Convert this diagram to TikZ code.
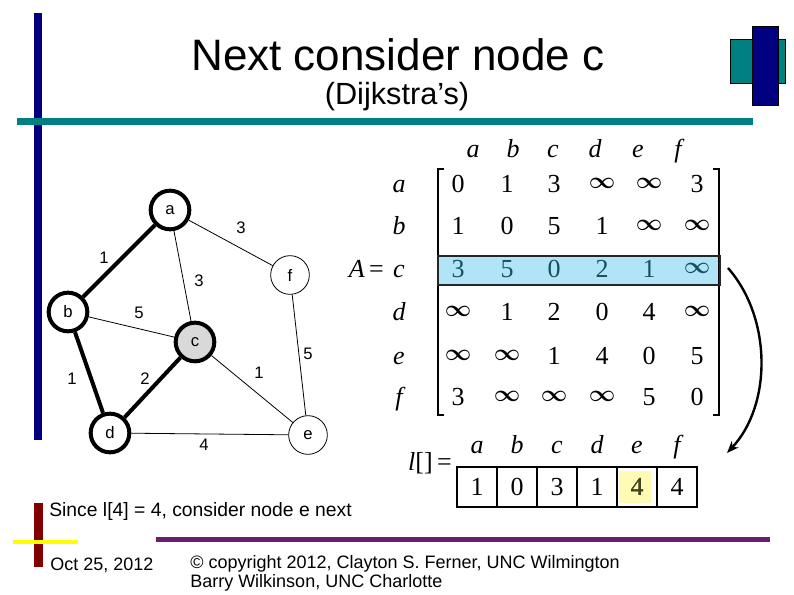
\documentclass[tikz,border=0pt]{standalone}
\usepackage{fontspec}
\setmainfont{Liberation Sans}
\newfontfamily\timesf{Liberation Serif}
\usetikzlibrary{arrows.meta}
\definecolor{navyc}{RGB}{0,0,128}
\definecolor{tealc}{RGB}{0,128,128}
\definecolor{darkred}{RGB}{128,0,0}
\definecolor{yellowc}{RGB}{255,255,0}
\definecolor{purplec}{RGB}{110,28,110}
\definecolor{grayc}{RGB}{217,217,217}
\definecolor{rowblue}{RGB}{178,228,248}
\definecolor{rowtext}{RGB}{20,80,100}
\definecolor{cellyel}{RGB}{255,250,180}
\definecolor{celltext}{RGB}{70,70,30}
\newcommand{\infsym}{\raisebox{3.0pt}{\fontsize{17}{19}\selectfont$\boldsymbol{\infty}$}}
\usepackage{amsmath}
\tikzset{
  gnode/.style={circle, draw, fill=white, minimum size=29pt, inner sep=0pt, font=\fontsize{12.5}{14}\selectfont},
  thicknode/.style={gnode, line width=3pt},
  thinnode/.style={gnode, line width=0.6pt},
  thinedge/.style={line width=0.6pt},
  thickedge/.style={line width=3pt},
  elabel/.style={inner sep=0pt, font=\fontsize{12.5}{14}\selectfont},
  mat/.style={inner sep=0pt, anchor=base, font=\timesf\fontsize{19.5}{22}\selectfont},
  mlab/.style={inner sep=0pt, anchor=base, font=\timesf\itshape\fontsize{19.5}{22}\selectfont},
  cell/.style={draw, line width=1.1pt, minimum width=30pt, minimum height=30pt, inner sep=0pt, font=\timesf\fontsize{19.5}{22}\selectfont},
  ftext/.style={inner sep=0pt, anchor=base west, font=\fontsize{13.5}{16}\selectfont}
}
\begin{document}
\begin{tikzpicture}[x=0.75pt,y=-0.75pt]
\useasboundingbox (0,0) rectangle (794,595);
% decorations
\fill[navyc] (34,13) rectangle (42,440);
\fill[tealc] (17,118) rectangle (753,125);
\filldraw[fill=tealc, draw=black, line width=0.4pt] (730,39) rectangle (785,83);
\filldraw[fill=navyc, draw=black, line width=0.4pt] (752,26) rectangle (778,105);
% title
\node[inner sep=0pt, font=\fontsize{33}{40}\selectfont] (title) at (398,55) {Next consider node c};
\node[inner sep=0pt, font=\fontsize{23}{28}\selectfont] (subtitle) at (397,97) {(Dijkstra’s)};
% graph
\node[thicknode] (a) at (170,210) {a};
\node[thicknode] (b) at (68,312) {b};
\node[thicknode, fill=grayc] (c) at (195,342) {c};
\node[thicknode] (d) at (110,433) {d};
\node[thinnode] (e) at (308,435) {e};
\node[thinnode] (f) at (290,275) {f};
\draw[thickedge] (a) -- (b);
\draw[thinedge] (a) -- (f);
\draw[thinedge] (a) -- (c);
\draw[thinedge] (b) -- (c);
\draw[thickedge] (b) -- (d);
\draw[thickedge] (c) -- (d);
\draw[thinedge] (c) -- (e);
\draw[thinedge] (f) -- (e);
\draw[thinedge] (d) -- (e);
\node[elabel] (laf) at (241,228) {3};
\node[elabel] (lab) at (104,258) {1};
\node[elabel] (lac) at (199,281) {3};
\node[elabel] (lbc) at (139,313) {5};
\node[elabel] (lbd) at (72,379) {1};
\node[elabel] (lcd) at (145,379) {2};
\node[elabel] (lce) at (259,373) {1};
\node[elabel] (lfe) at (308,354) {5};
\node[elabel] (lde) at (204,445) {4};
% matrix
\fill[rowblue] (438,256) rectangle (720,285);
\draw[line width=1.6pt] (444,169) -- (438,169) -- (438,415) -- (444,415);
\draw[line width=1.6pt] (713,169) -- (719,169) -- (719,415) -- (713,415);
\draw[line width=1.2pt, draw=black!85] (438,256) rectangle (720,285);
\node[inner sep=0pt, font=\timesf\fontsize{19.5}{22}\selectfont, anchor=base east] (Aeq) at (384,278) {\itshape A\upshape\,=};
\foreach \l/\x [count=\i] in {a/473,b/513,c/553,d/595,e/638,f/678}
  \node[mlab] (ch\i) at (\x,158) {\l};
\foreach \l/\y [count=\i] in {a/193,b/235,c/278,d/321,e/365,f/406}
  \node[mlab] (rh\i) at (399,\y) {\l};
\foreach \v/\x [count=\i] in {0/458,1/507,3/554,\infsym/602,\infsym/649,3/697}
  \node[mat] (m1\i) at (\x,193) {\v};
\foreach \v/\x [count=\i] in {1/458,0/507,5/554,1/602,\infsym/649,\infsym/697}
  \node[mat] (m2\i) at (\x,235) {\v};
\foreach \v/\x [count=\i] in {3/458,5/507,0/554,2/602,1/649,\infsym/697}
  \node[mat, text=rowtext] (m3\i) at (\x,278) {\v};
\foreach \v/\x [count=\i] in {\infsym/458,1/507,2/554,0/602,4/649,\infsym/697}
  \node[mat] (m4\i) at (\x,321) {\v};
\foreach \v/\x [count=\i] in {\infsym/458,\infsym/507,1/554,4/602,0/649,5/697}
  \node[mat] (m5\i) at (\x,365) {\v};
\foreach \v/\x [count=\i] in {3/458,\infsym/507,\infsym/554,\infsym/602,5/649,0/697}
  \node[mat] (m6\i) at (\x,406) {\v};
% curved arrow
\coordinate (arrS) at (728,268);
\coordinate (arrE) at (727,453);
\draw[line width=1.8pt, -{Stealth[length=9pt,width=7pt]}] (arrS) .. controls (772,318) and (772,405) .. (arrE);
% l[] array
\fill[cellyel] (619,471) rectangle (651,503);
\node[inner sep=0pt, font=\timesf\fontsize{19.5}{22}\selectfont, anchor=base east] (leq) at (452,471) {\itshape l\upshape[]\,=};
\foreach \l [count=\i] in {a,b,c,d,e,f}
  \node[mlab] (lh\i) at ({437+40*\i},454) {\l};
\foreach \v [count=\i] in {1,0,3,1,4,4}
  \node[cell] (l\i) at ({437+40*\i},487) {\v};
\node[inner sep=0pt, font=\timesf\fontsize{19.5}{22}\selectfont, text=celltext] at (l5) {4};
% footer
\node[ftext, font=\fontsize{14.5}{17}\selectfont] (since) at (49,517) {Since l[4] = 4, consider node e next};
\fill[darkred] (34,503) rectangle (43,567);
\fill[yellowc] (13,540) rectangle (78,544);
\fill[purplec] (156,537) rectangle (770,542);
\node[ftext] (date) at (50,571) {Oct 25, 2012};
\node[ftext] (copy1) at (190,569) {© copyright 2012, Clayton S. Ferner, UNC Wilmington};
\node[ftext] (copy2) at (190,588) {Barry Wilkinson, UNC Charlotte};
\end{tikzpicture}
\end{document}
